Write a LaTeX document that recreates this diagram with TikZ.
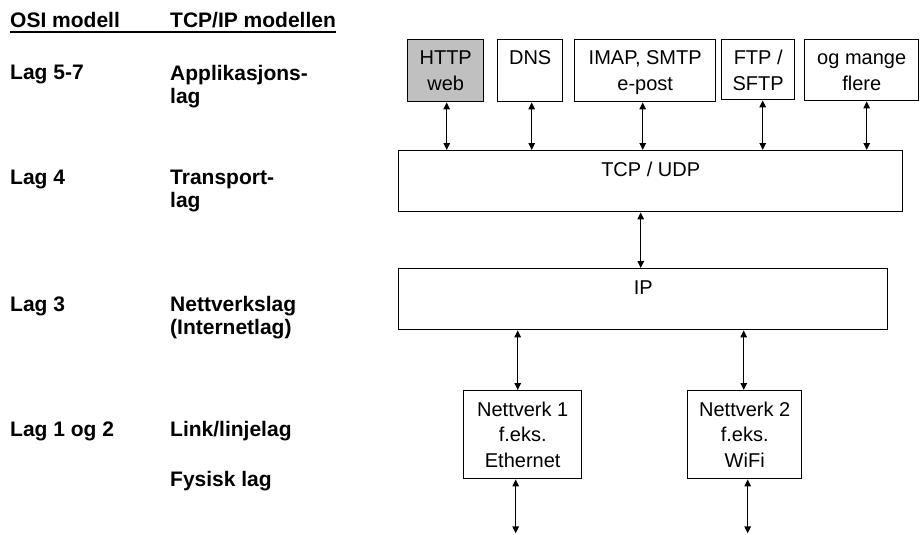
\documentclass[tikz,border=0pt]{standalone}
\usepackage{fontspec}
\setmainfont{Liberation Sans}
\usetikzlibrary{arrows.meta,calc}
\definecolor{boxgray}{RGB}{192,192,192}
\begin{document}
\begin{tikzpicture}[x=1pt,y=-1pt,
  box/.style={draw, line width=1.4pt, inner sep=0pt, anchor=north west},
  link/.style={{Triangle[length=7pt,width=6.5pt]}-{Triangle[length=7pt,width=6.5pt]}, line width=1.3pt},
  lbl/.style={font=\bfseries\fontsize{21}{23}\selectfont, anchor=base west, align=left, inner sep=0pt},
  txt/.style={font=\fontsize{20}{26}\selectfont, anchor=base, align=center, inner sep=0pt},
  nettxt/.style={txt, font=\fontsize{20}{25.5}\selectfont}]
\useasboundingbox (0,0) rectangle (921,535);

% column headings with one underline across both
\node[lbl] (osihead) at (10,28) {OSI modell};
\node[lbl] (tcphead) at (170,28) {TCP/IP modellen};
\draw[line width=2pt] ([yshift=-4pt]osihead.base west) -- ([yshift=-4pt]tcphead.base east);

% layer names (a multi-line node sits on the baseline of its last line)
\node[lbl] (l57)  at (10,80)   {Lag 5-7};
\node[lbl] (app)  at (170,103) {Applikasjons-\\lag};
\node[lbl] (l4)   at (10,184)  {Lag 4};
\node[lbl] (tra)  at (170,207) {Transport-\\lag};
\node[lbl] (l3)   at (10,311)  {Lag 3};
\node[lbl] (net)  at (170,334) {Nettverkslag\\(Internetlag)};
\node[lbl] (l12)  at (10,436)  {Lag 1 og 2};
\node[lbl] (lnk)  at (170,436) {Link/linjelag};
\node[lbl] (fys)  at (170,486) {Fysisk lag};

% protocol boxes
\node[box, fill=boxgray, minimum width=76pt, minimum height=62pt] (http) at (407,39) {};
\node[box, minimum width=65pt,  minimum height=62pt] (dns)  at (497,39) {};
\node[box, minimum width=141pt, minimum height=62pt] (imap) at (574,39) {};
\node[box, minimum width=73pt,  minimum height=60pt] (ftp)  at (721,39) {};
\node[box, minimum width=114pt, minimum height=61pt] (more) at (804,39) {};
\node[box, minimum width=504pt, minimum height=61pt] (tcp)  at (398,150) {};
\node[box, minimum width=489pt, minimum height=61pt] (ip)   at (398,268) {};
\node[box, minimum width=118pt, minimum height=88pt] (net1) at (463,390) {};
\node[box, minimum width=114pt, minimum height=88pt] (net2) at (687,390) {};

% box texts, set from the top edge (first baseline 26pt below it)
\node[txt] (httpt) at ($(http.north)+(0,52)$) {HTTP\\web};
\node[txt] (dnst)  at ($(dns.north)+(0,26)$)  {DNS};
\node[txt] (imapt) at ($(imap.north)+(0,52)$) {IMAP, SMTP\\e-post};
\node[txt] (ftpt)  at ($(ftp.north)+(0,52)$)  {FTP /\\SFTP};
\node[txt] (moret) at ($(more.north)+(0,52)$) {og mange\\flere};
\node[txt] (tcpt)  at ($(tcp.north)+(0,26)$)  {TCP / UDP};
\node[txt] (ipt)   at ($(ip.north)+(0,26)$)   {IP};
\node[nettxt] (net1t) at ($(net1.north)+(0,77)$) {Nettverk 1\\f.eks.\\Ethernet};
\node[nettxt] (net2t) at ($(net2.north)+(0,77)$) {Nettverk 2\\f.eks.\\WiFi};

% connector positions
\coordinate (ah) at ([xshift=1pt]http.south);
\coordinate (ad) at ([xshift=1.5pt]dns.south);
\coordinate (ai) at ([xshift=-2.5pt]imap.south);
\coordinate (af) at ([xshift=4.5pt]ftp.south);
\coordinate (am) at ([xshift=5pt]more.south);
\coordinate (ti) at ([xshift=-2.5pt]ip.north);
\coordinate (n1t) at ([xshift=-5pt]net1.north);
\coordinate (n2t) at ([xshift=-1pt]net2.north);
\coordinate (n1b) at ([xshift=-7pt]net1.south);
\coordinate (n2b) at ([xshift=3pt]net2.south);
\coordinate (end1) at ($(n1b)+(0,54)$);
\coordinate (end2) at ($(n2b)+(0,54)$);

% connectors
\draw[link] (ah) -- (ah |- tcp.north);
\draw[link] (ad) -- (ad |- tcp.north);
\draw[link] (ai) -- (ai |- tcp.north);
\draw[link] (af) -- (af |- tcp.north);
\draw[link] (am) -- (am |- tcp.north);
\draw[link] (ti |- tcp.south) -- (ti);
\draw[link] (n1t |- ip.south) -- (n1t);
\draw[link] (n2t |- ip.south) -- (n2t);
\draw[link] (n1b) -- (end1);
\draw[link] (n2b) -- (end2);
\end{tikzpicture}
\end{document}
